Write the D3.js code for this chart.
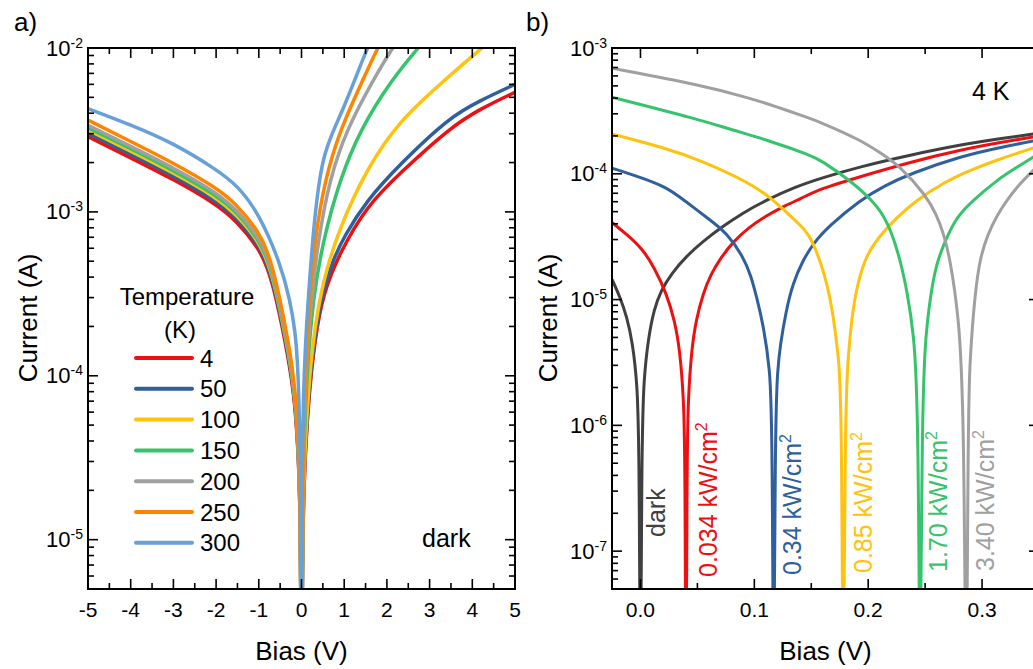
<!DOCTYPE html>
<html>
<head>
<meta charset="utf-8">
<script src="https://cdn.jsdelivr.net/npm/d3@7"></script>
<style>
  body { margin: 0; background: #fff; }
  svg text { font-family: "Liberation Sans", Arial, sans-serif; fill: #000; }
</style>
</head>
<body>
<script>
// ---- panel a: dark I-V at several temperatures, [bias V, |current| A]
const tempLabels = ['4', '50', '100', '150', '200', '250', '300'];
const tempColors = ['#ee1010', '#2f5f9c', '#ffc20e', '#35c46c', '#a0a0a0', '#ff8500', '#68a0d8'];

const ivT4 = [[-5, 2.88e-3], [-4, 2.14e-3], [-3, 1.58e-3], [-2, 1.12e-3], [-1.5, 8.7e-4], [-1, 6.0e-4], [-0.8, 4.6e-4], [-0.6, 3.1e-4], [-0.3, 1.26e-4], [-0.16, 7.1e-5], [-0.08, 3.55e-5], [-0.04, 1.78e-5], [-0.015, 6.6e-6], [0, 1e-7],
  [0.015, 6.0e-6], [0.05, 2.2e-5], [0.16, 7.1e-5], [0.31, 1.66e-4], [0.51, 3.2e-4], [0.89, 5.6e-4], [1.52, 1.08e-3], [2.3, 1.72e-3], [3.5, 3.3e-3], [4.2, 4.27e-3], [5, 5.37e-3]];
const ivT50 = [[-5, 3.02e-3], [-4, 2.24e-3], [-3, 1.66e-3], [-2, 1.17e-3], [-1.5, 9.1e-4], [-1, 6.3e-4], [-0.8, 4.8e-4], [-0.6, 3.25e-4], [-0.3, 1.32e-4], [-0.16, 7.4e-5], [-0.08, 3.7e-5], [-0.04, 1.86e-5], [-0.015, 6.9e-6], [0, 1e-7],
  [0.015, 6.5e-6], [0.05, 2.3e-5], [0.16, 7.6e-5], [0.31, 1.74e-4], [0.5, 3.3e-4], [0.74, 5.1e-4], [1.0, 7.1e-4], [1.52, 1.17e-3], [2.3, 1.95e-3], [3.47, 3.8e-3], [4.2, 4.8e-3], [5, 6.0e-3]];
const ivT100 = [[-5, 3.16e-3], [-4, 2.35e-3], [-3, 1.73e-3], [-2, 1.23e-3], [-1.5, 9.5e-4], [-1, 6.6e-4], [-0.8, 5.0e-4], [-0.6, 3.4e-4], [-0.3, 1.38e-4], [-0.16, 7.8e-5], [-0.08, 3.9e-5], [-0.04, 1.95e-5], [-0.015, 7.2e-6], [0, 1e-7],
  [0.015, 7.1e-6], [0.05, 2.5e-5], [0.16, 8.5e-5], [0.3, 1.9e-4], [0.51, 3.9e-4], [0.9, 8.1e-4], [1.52, 1.82e-3], [2.3, 3.63e-3], [3.36, 6.4e-3], [4.22, 1.0e-2], [4.6, 1.2e-2]];
const ivT150 = [[-5, 3.27e-3], [-4, 2.43e-3], [-3, 1.79e-3], [-2, 1.27e-3], [-1.5, 9.9e-4], [-1, 6.8e-4], [-0.8, 5.2e-4], [-0.6, 3.5e-4], [-0.3, 1.43e-4], [-0.16, 8.1e-5], [-0.08, 4.0e-5], [-0.04, 2.0e-5], [-0.015, 7.5e-6], [0, 1e-7],
  [0.015, 7.9e-6], [0.05, 3.3e-5], [0.12, 1.0e-4], [0.27, 3.0e-4], [0.51, 6.8e-4], [0.9, 1.58e-3], [1.37, 3.16e-3], [2.11, 6.4e-3], [2.73, 1.0e-2], [3.0, 1.2e-2]];
const ivT200 = [[-5, 3.38e-3], [-4, 2.51e-3], [-3, 1.86e-3], [-2, 1.32e-3], [-1.5, 1.02e-3], [-1, 7.05e-4], [-0.8, 5.4e-4], [-0.6, 3.65e-4], [-0.3, 1.48e-4], [-0.16, 8.3e-5], [-0.08, 4.2e-5], [-0.04, 2.1e-5], [-0.015, 7.8e-6], [0, 1e-7],
  [0.015, 8.9e-6], [0.05, 4.0e-5], [0.1, 9.5e-5], [0.2, 2.5e-4], [0.39, 6.8e-4], [0.66, 1.58e-3], [1.05, 3.16e-3], [1.68, 6.4e-3], [2.13, 1.0e-2], [2.4, 1.26e-2]];
const ivT250 = [[-5, 3.63e-3], [-4, 2.69e-3], [-3, 1.99e-3], [-2, 1.41e-3], [-1.5, 1.10e-3], [-1, 7.55e-4], [-0.8, 5.8e-4], [-0.6, 3.9e-4], [-0.3, 1.59e-4], [-0.16, 8.9e-5], [-0.08, 4.5e-5], [-0.04, 2.2e-5], [-0.015, 8.3e-6], [0, 1e-7],
  [0.015, 1.0e-5], [0.05, 4.4e-5], [0.1, 1.05e-4], [0.2, 3.0e-4], [0.31, 6.8e-4], [0.55, 1.58e-3], [0.9, 3.16e-3], [1.44, 6.4e-3], [1.78, 1.0e-2], [2.0, 1.26e-2]];
const ivT300 = [[-5, 4.27e-3], [-4, 3.4e-3], [-3, 2.63e-3], [-2, 1.82e-3], [-1.5, 1.45e-3], [-1, 9.8e-4], [-0.5, 4.9e-4], [-0.27, 2.9e-4], [-0.15, 1.9e-4], [-0.08, 1.15e-4], [-0.02, 2.9e-5], [-0.005, 7.2e-6], [0, 1e-7],
  [0.005, 9e-6], [0.015, 2.7e-5], [0.04, 7.1e-5], [0.1, 1.78e-4], [0.2, 4.2e-4], [0.3, 8.9e-4], [0.43, 1.66e-3], [0.55, 2.3e-3], [0.7, 2.95e-3], [1.0, 4.4e-3], [1.25, 6.4e-3], [1.54, 1.0e-2], [1.7, 1.2e-2]];
const tempSeries = [ivT4, ivT50, ivT100, ivT150, ivT200, ivT250, ivT300];

// ---- panel b: 4 K I-V under illumination, [bias V, |current| A]
const powerLabels = ['dark', '0.034', '0.34', '0.85', '1.70', '3.40'];
const powerColors = ['#404040', '#ee1010', '#2f5f9c', '#ffc20e', '#35c46c', '#a0a0a0'];
const powerVoc = [0, 0.040, 0.117, 0.178, 0.2455, 0.286];

const ivDark = [[-0.025, 1.45e-5], [-0.018, 1.05e-5], [-0.012, 7.3e-6], [-0.007, 4.6e-6], [-0.003, 2.2e-6], [-0.001, 8e-7], [0, 1e-9], [0.001, 8e-7], [0.003, 2.4e-6],
  [0.007, 5.0e-6], [0.012, 8.4e-6], [0.018, 1.18e-5], [0.027, 1.6e-5], [0.04, 2.2e-5], [0.055, 2.9e-5], [0.07, 3.7e-5], [0.09, 4.9e-5], [0.111, 6.2e-5], [0.135, 7.8e-5],
  [0.158, 9.2e-5], [0.193, 1.14e-4], [0.237, 1.41e-4], [0.281, 1.70e-4], [0.32, 1.93e-4], [0.35, 2.1e-4]];
const iv0034 = [[-0.025, 4.1e-5], [-0.012, 3.3e-5], [0.0023, 2.5e-5], [0.012, 1.8e-5], [0.0229, 1.12e-5], [0.03, 6.8e-6], [0.0346, 4.0e-6], [0.038, 1.6e-6], [0.0392, 6e-7], [0.040, 1e-9],
  [0.0408, 6e-7], [0.0419, 1.6e-6], [0.0448, 4.0e-6], [0.049, 7.0e-6], [0.055, 1.12e-5], [0.062, 1.6e-5], [0.0698, 2.1e-5], [0.0815, 2.9e-5], [0.096, 3.8e-5], [0.11, 4.6e-5],
  [0.1254, 5.5e-5], [0.14, 6.3e-5], [0.158, 7.6e-5], [0.193, 9.5e-5], [0.237, 1.24e-4], [0.281, 1.55e-4], [0.32, 1.8e-4], [0.35, 2.0e-4]];
const iv034 = [[-0.025, 1.11e-4], [-0.005, 9.7e-5], [0.0229, 7.9e-5], [0.04, 6.0e-5], [0.061, 4.3e-5], [0.0756, 3.4e-5], [0.0902, 2.2e-5], [0.097, 1.55e-5], [0.102, 1.05e-5], [0.108, 6.2e-6],
  [0.1137, 2.8e-6], [0.1158, 1.1e-6], [0.117, 1e-9], [0.1182, 1.1e-6], [0.1205, 2.8e-6], [0.1225, 4.2e-6], [0.128, 8.3e-6], [0.134, 1.35e-5], [0.142, 2.0e-5], [0.1518, 2.8e-5],
  [0.165, 3.8e-5], [0.1929, 6.2e-5], [0.215, 8.1e-5], [0.237, 1.0e-4], [0.281, 1.38e-4], [0.32, 1.65e-4], [0.35, 1.86e-4]];
const iv085 = [[-0.025, 2.07e-4], [0.02, 1.62e-4], [0.052, 1.29e-4], [0.096, 8.5e-5], [0.1166, 6.2e-5], [0.1254, 5.2e-5], [0.146, 3.55e-5], [0.152, 2.75e-5], [0.158, 2.0e-5], [0.164, 1.32e-5],
  [0.169, 7.9e-6], [0.174, 3.5e-6], [0.1768, 1.6e-6], [0.178, 1e-9], [0.1797, 1.6e-6], [0.1825, 3.5e-6], [0.1856, 7.4e-6], [0.191, 1.4e-5], [0.1988, 2.3e-5], [0.21, 3.2e-5],
  [0.225, 4.5e-5], [0.2427, 6.2e-5], [0.266, 8.5e-5], [0.29, 1.07e-4], [0.313, 1.29e-4], [0.35, 1.66e-4]];
const iv170 = [[-0.025, 4.06e-4], [0.0522, 2.69e-4], [0.08, 2.24e-4], [0.111, 1.86e-4], [0.149, 1.41e-4], [0.158, 1.29e-4], [0.187, 8.5e-5], [0.21, 5.4e-5], [0.22, 3.55e-5], [0.228, 2.1e-5],
  [0.2345, 1.12e-5], [0.2398, 5.5e-6], [0.2442, 1.6e-6], [0.2455, 1e-9], [0.2471, 1.6e-6], [0.2507, 5.5e-6], [0.255, 1.12e-5], [0.26, 1.95e-5], [0.268, 3.0e-5], [0.278, 4.6e-5],
  [0.2925, 6.2e-5], [0.313, 8.9e-5], [0.33, 1.12e-4], [0.35, 1.45e-4]];
const iv340 = [[-0.025, 6.9e-4], [0.0522, 5.1e-4], [0.096, 4.0e-4], [0.12, 3.4e-4], [0.149, 2.75e-4], [0.158, 2.57e-4], [0.193, 1.86e-4], [0.21, 1.48e-4], [0.228, 1.15e-4], [0.2515, 6.6e-5],
  [0.26, 4.7e-5], [0.266, 3.4e-5], [0.272, 2.1e-5], [0.2794, 7.4e-6], [0.2842, 1.6e-6], [0.286, 1e-9], [0.2878, 1.6e-6], [0.2895, 3.2e-6], [0.292, 7.4e-6], [0.297, 2.0e-5],
  [0.305, 3.3e-5], [0.3127, 4.6e-5], [0.322, 6.2e-5], [0.333, 8.3e-5], [0.345, 1.07e-4], [0.35, 1.17e-4]];
const powerSeries = [ivDark, iv0034, iv034, iv085, iv170, iv340];

const W = 1033, H = 669;
const svg = d3.select('body').append('svg').attr('width', W).attr('height', H);

const ax = d3.scaleLinear().domain([-5, 5]).range([88, 515]);
const ay = d3.scaleLog().domain([5e-6, 1e-2]).range([589, 48]);
const bx = d3.scaleLinear().domain([-0.025, 0.35]).range([612, 1039]);
const by = d3.scaleLog().domain([5e-8, 1e-3]).range([589, 48]);

const isDecade = v => Math.abs(Math.log10(v) - Math.round(Math.log10(v))) < 1e-6;

// frame with inward ticks on all four sides, labels on left and bottom
const drawAxes = function(x, y, xMajor, xMinor, fmtX) {
  const [x0, x1] = x.range();
  const [yb, yt] = y.range();
  const g = svg.append('g').attr('stroke', '#000').attr('stroke-width', 1.6);
  const xt = xMajor.map(v => ({v, len: 10})).concat(xMinor.map(v => ({v, len: 6})));
  xt.forEach(t => {
    const px = x(t.v);
    g.append('line').attr('x1', px).attr('x2', px).attr('y1', yb).attr('y2', yb - t.len);
    g.append('line').attr('x1', px).attr('x2', px).attr('y1', yt).attr('y2', yt + t.len);
  });
  y.ticks().forEach(v => {
    const len = isDecade(v) ? 10 : 6;
    const py = y(v);
    g.append('line').attr('x1', x0).attr('x2', x0 + len).attr('y1', py).attr('y2', py);
    g.append('line').attr('x1', x1).attr('x2', x1 - len).attr('y1', py).attr('y2', py);
  });
  g.append('rect').attr('x', x0).attr('y', yt).attr('width', x1 - x0).attr('height', yb - yt)
    .attr('fill', 'none').attr('stroke-width', 2);

  xMajor.forEach(v => {
    svg.append('text').attr('x', x(v)).attr('y', 617).attr('text-anchor', 'middle')
      .style('font-size', '21px').text(fmtX(v));
  });
  y.ticks().filter(isDecade).forEach(v => {
    const t = svg.append('text').attr('x', x0 - 5).attr('y', y(v) + 7.5).attr('text-anchor', 'end')
      .style('font-size', '22px');
    t.append('tspan').text('10');
    t.append('tspan').attr('dy', -8).style('font-size', '14px').text(String(Math.round(Math.log10(v))));
  });

  svg.append('text').attr('x', (x0 + x1) / 2).attr('y', 660)
    .attr('text-anchor', 'middle').style('font-size', '26px').text('Bias (V)');
};

const drawCurves = function(x, y, series, colors, width, clipId) {
  const [x0, x1] = x.range();
  const [yb, yt] = y.range();
  svg.append('clipPath').attr('id', clipId).append('rect')
    .attr('x', x0).attr('y', yt).attr('width', x1 - x0).attr('height', yb - yt);
  const line = d3.line().x(d => x(d[0])).y(d => y(d[1])).curve(d3.curveBasis);
  svg.append('g').attr('clip-path', `url(#${clipId})`)
    .selectAll('path').data(series).enter().append('path')
    .attr('d', line).attr('fill', 'none')
    .attr('stroke', (d, i) => colors[i]).attr('stroke-width', width)
    .attr('stroke-linejoin', 'round');
};

// panel a
drawCurves(ax, ay, tempSeries, tempColors, 3.5, 'clipA');
drawAxes(ax, ay, d3.range(-5, 5.01, 1), d3.range(-4.5, 5, 1), v => String(v));

// panel b
drawCurves(bx, by, powerSeries, powerColors, 3, 'clipB');
drawAxes(bx, by, [0, 0.1, 0.2, 0.3], [0.05, 0.15, 0.25], d3.format('.1f'));

// y titles
[37, 557].forEach(px => {
  svg.append('text').attr('transform', `translate(${px},318) rotate(-90)`)
    .attr('text-anchor', 'middle').style('font-size', '26px').text('Current (A)');
});

svg.append('text').attr('x', 14).attr('y', 31).style('font-size', '26px').text('a)');
svg.append('text').attr('x', 526).attr('y', 31).style('font-size', '26px').text('b)');

// legend for panel a
svg.append('text').attr('x', 187).attr('y', 305).attr('text-anchor', 'middle').style('font-size', '24px').text('Temperature');
svg.append('text').attr('x', 180).attr('y', 338).attr('text-anchor', 'middle').style('font-size', '24px').text('(K)');
tempLabels.forEach((lab, i) => {
  const ly = 358 + i * 30.8;
  svg.append('line').attr('x1', 136).attr('x2', 192).attr('y1', ly).attr('y2', ly)
    .attr('stroke', tempColors[i]).attr('stroke-width', 4).attr('stroke-linecap', 'round');
  svg.append('text').attr('x', 200).attr('y', ly + 8.5).style('font-size', '24px').text(lab);
});
svg.append('text').attr('x', 422).attr('y', 547).style('font-size', '25px').text('dark');
svg.append('text').attr('x', 972).attr('y', 100).style('font-size', '25px').text('4 K');

// rotated labels for panel b
const labelDx = [25, 31, 27, 29, 27, 28];
const labelY = [537, 577, 575, 573, 572, 571];
powerLabels.forEach((lab, i) => {
  const t = svg.append('text')
    .attr('transform', `translate(${bx(powerVoc[i]) + labelDx[i]},${labelY[i]}) rotate(-90)`)
    .style('font-size', '25px').style('fill', powerColors[i]);
  if (i === 0) {
    t.text(lab);
  } else {
    t.append('tspan').text(lab + ' kW/cm');
    t.append('tspan').attr('dy', -10).style('font-size', '16px').text('2');
  }
});
</script>
</body>
</html>
